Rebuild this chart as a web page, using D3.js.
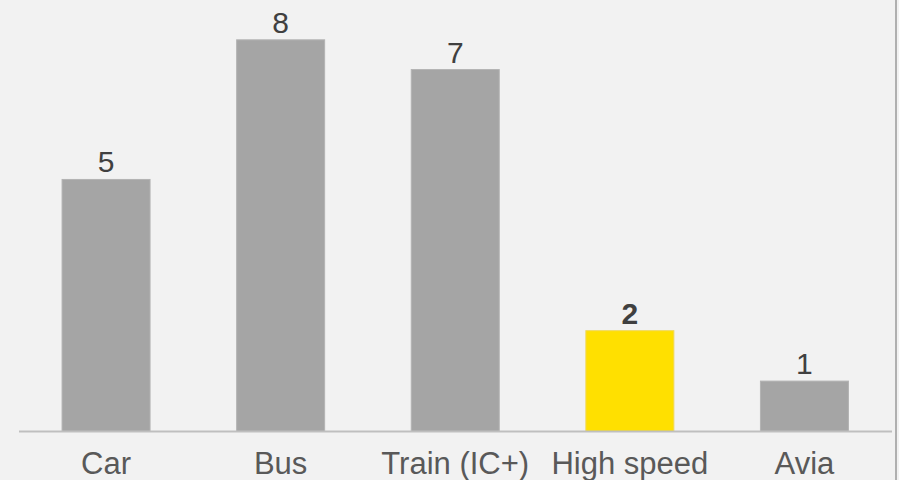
<!DOCTYPE html>
<html>
<head>
<meta charset="utf-8">
<script src="https://cdn.jsdelivr.net/npm/d3@7"></script>
<style>
  html, body { margin: 0; padding: 0; background: #f2f2f2; }
  svg { display: block; }
</style>
</head>
<body>
<svg id="chart" width="899" height="480"></svg>
<script>
const categories = ["Car", "Bus", "Train (IC+)", "High speed", "Avia"];
const values = [5, 7.77, 7.18, 2, 1];
const highlighted = ["High speed"];

const W = 899, H = 480;
const svg = d3.select("#chart");

svg.append("rect").attr("x", 0).attr("y", 0).attr("width", W).attr("height", H).attr("fill", "#f2f2f2");

const x = d3.scaleBand().domain(categories).range([18.75, 891.75]).paddingInner(0.496).paddingOuter(0.248);
const y = d3.scaleLinear().domain([0, 8.56]).range([431.5, 0]);

const data = categories.map((c, i) => ({ c, v: values[i], hi: highlighted.includes(c) }));

svg.selectAll("rect.bar").data(data).join("rect")
  .attr("class", "bar")
  .attr("x", d => x(d.c))
  .attr("y", d => y(d.v))
  .attr("width", x.bandwidth())
  .attr("height", d => y(0) - y(d.v))
  .attr("fill", d => d.hi ? "#ffe000" : "#a5a5a5")
  .attr("stroke", d => d.hi ? "#f0d85a" : "#b3b3b3")
  .attr("stroke-width", 1);

// baseline axis
const xAxis = d3.axisBottom(x).tickSize(0).tickPadding(0);
const gx = svg.append("g").attr("transform", `translate(0,${y(0)})`).call(xAxis);
gx.select(".domain").attr("stroke", "#bfbfbf").attr("stroke-width", 2).attr("d", `M19,0H892`);
gx.selectAll(".tick text")
  .attr("dy", null)
  .attr("y", 42)
  .attr("font-family", "'Liberation Sans', Arial, sans-serif")
  .attr("font-size", 31)
  .attr("fill", "#595959")
  .attr("text-anchor", "middle");

// value labels
const fmt = d3.format(".0f");
svg.selectAll("text.val").data(data).join("text")
  .attr("class", "val")
  .attr("x", d => x(d.c) + x.bandwidth() / 2)
  .attr("y", d => y(d.v) - 7)
  .attr("text-anchor", "middle")
  .attr("font-family", "'Liberation Sans', Arial, sans-serif")
  .attr("font-size", 30)
  .attr("font-weight", d => d.hi ? "bold" : "normal")
  .attr("fill", "#404040")
  .text(d => fmt(d.v));

// right frame edge
svg.append("line").attr("x1", 896).attr("x2", 896).attr("y1", 0).attr("y2", H)
  .attr("stroke", "#b0b0b0").attr("stroke-width", 2);
</script>
</body>
</html>
